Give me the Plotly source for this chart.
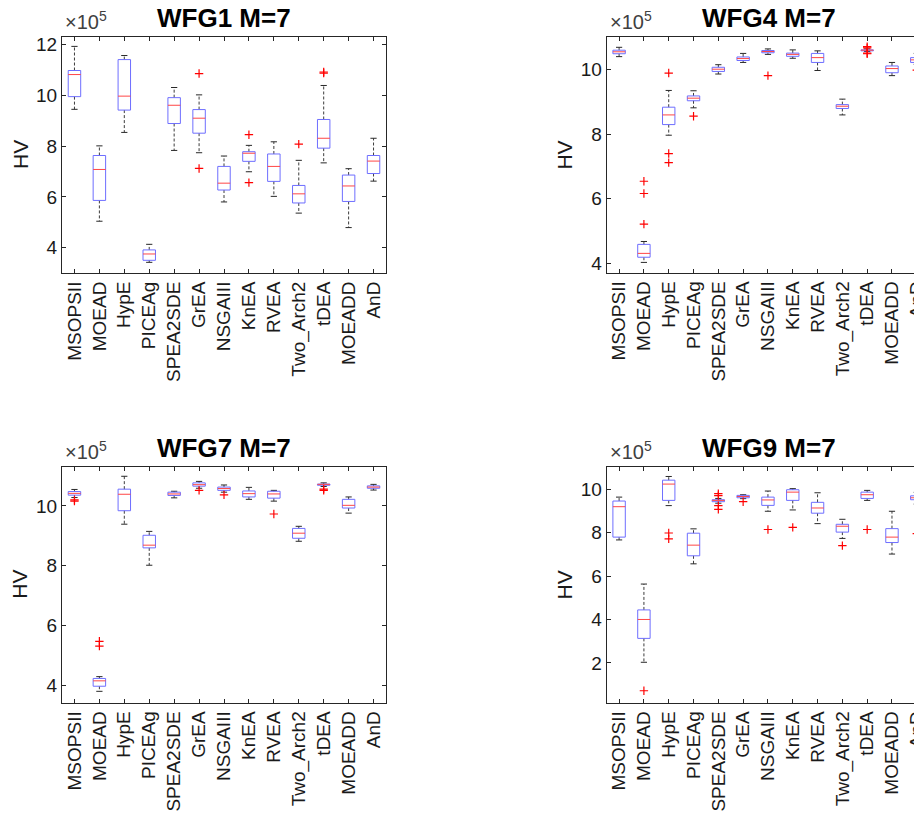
import plotly.graph_objects as go

algorithms = ["MSOPSII", "MOEAD", "HypE", "PICEAg", "SPEA2SDE", "GrEA", "NSGAIII",
              "KnEA", "RVEA", "Two_Arch2", "tDEA", "MOEADD", "AnD"]

# values in units of 1e5
wfg1_lower = [9.45, 5.04, 8.54, 3.42, 7.83, 7.74, 5.80, 6.99, 6.02, 5.36, 7.34, 4.79, 6.62]
wfg1_q1 = [9.95, 5.86, 9.42, 3.50, 8.89, 8.51, 6.27, 7.40, 6.61, 5.76, 7.92, 5.82, 6.92]
wfg1_median = [10.82, 7.08, 9.97, 3.75, 9.61, 9.10, 6.54, 7.72, 7.20, 6.12, 8.31, 6.43, 7.41]
wfg1_q3 = [10.98, 7.63, 11.41, 3.91, 9.91, 9.44, 7.20, 7.78, 7.69, 6.45, 9.05, 6.86, 7.63]
wfg1_upper = [11.93, 8.01, 11.57, 4.13, 10.31, 10.02, 7.61, 8.03, 8.17, 7.44, 10.39, 7.11, 8.31]
wfg1_outliers = [[], [], [], [], [], [10.86, 7.12], [], [8.45, 6.56], [], [8.08], [10.88, 10.92], [], []]

wfg4_lower = [10.41, 4.02, 7.97, 8.82, 9.87, 10.23, 10.48, 10.36, 9.98, 8.60, 10.57, 9.82, 10.17]
wfg4_q1 = [10.50, 4.18, 8.30, 9.04, 9.95, 10.29, 10.53, 10.42, 10.23, 8.80, 10.59, 9.91, 10.23]
wfg4_median = [10.56, 4.30, 8.60, 9.12, 10.02, 10.35, 10.57, 10.48, 10.38, 8.87, 10.61, 10.04, 10.31]
wfg4_q3 = [10.61, 4.58, 8.84, 9.19, 10.08, 10.40, 10.60, 10.52, 10.51, 8.92, 10.62, 10.12, 10.38]
wfg4_upper = [10.70, 4.67, 9.36, 9.35, 10.16, 10.51, 10.65, 10.62, 10.59, 9.09, 10.65, 10.23, 10.51]
wfg4_outliers = [[], [6.54, 6.16, 5.21], [9.90, 7.40, 7.12], [8.56], [], [], [9.82], [], [], [],
                 [10.72, 10.68, 10.52, 10.50], [], [9.99]]

wfg7_lower = [10.28, 3.81, 9.39, 8.02, 10.27, 10.59, 10.46, 10.22, 10.16, 8.82, 10.65, 9.76, 10.53]
wfg7_q1 = [10.36, 3.98, 9.84, 8.60, 10.35, 10.66, 10.52, 10.30, 10.26, 8.92, 10.69, 9.93, 10.59]
wfg7_median = [10.42, 4.16, 10.39, 8.69, 10.40, 10.71, 10.58, 10.41, 10.40, 9.09, 10.72, 10.02, 10.63]
wfg7_q3 = [10.48, 4.24, 10.56, 9.02, 10.46, 10.77, 10.63, 10.50, 10.49, 9.25, 10.73, 10.22, 10.67]
wfg7_upper = [10.55, 4.30, 10.99, 9.15, 10.49, 10.82, 10.70, 10.62, 10.52, 9.32, 10.77, 10.30, 10.72]
wfg7_outliers = [[10.20, 10.16], [5.48, 5.32], [], [], [], [10.52], [10.37], [], [9.73], [],
                 [10.56, 10.52], [], []]

wfg9_lower = [7.66, 2.03, 9.24, 6.56, 9.35, 9.56, 8.98, 9.04, 8.41, 7.73, 9.48, 7.01, 9.31]
wfg9_q1 = [7.79, 3.13, 9.48, 6.93, 9.42, 9.60, 9.25, 9.48, 8.89, 8.02, 9.57, 7.54, 9.51]
wfg9_median = [9.19, 4.00, 10.23, 7.42, 9.48, 9.66, 9.50, 9.86, 9.13, 8.29, 9.74, 7.79, 9.60]
wfg9_q3 = [9.45, 4.44, 10.41, 7.97, 9.51, 9.71, 9.63, 9.97, 9.39, 8.38, 9.86, 8.18, 9.69]
wfg9_upper = [9.63, 5.63, 10.58, 8.17, 9.57, 9.74, 9.91, 10.02, 9.83, 8.61, 9.94, 8.98, 9.85]
wfg9_outliers = [[], [0.72], [7.98, 7.71], [], [9.79, 9.70, 9.24, 9.07], [9.42], [8.14], [8.24], [],
                 [7.40], [8.14], [], [7.95]]

titles = ["WFG1 M=7", "WFG4 M=7", "WFG7 M=7", "WFG9 M=7"]
y_tick_values = [[4, 6, 8, 10, 12], [4, 6, 8, 10], [4, 6, 8, 10], [2, 4, 6, 8, 10]]

# page body has an 8px margin; lay out in window pixels and shift
OFF = 8
W, H = 922 - OFF, 814 - OFF
FONT = "Liberation Sans, Arial, Helvetica, sans-serif"
AX = "#262626"

panels = [
    dict(data=(wfg1_lower, wfg1_q1, wfg1_median, wfg1_q3, wfg1_upper, wfg1_outliers),
         px_x=(62, 386), px_y=(37, 273), xr=[0.5, 13.5], yr=[3.0, 12.3], right=False),
    dict(data=(wfg4_lower, wfg4_q1, wfg4_median, wfg4_q3, wfg4_upper, wfg4_outliers),
         px_x=(606.7, 922), px_y=(37, 272.7), xr=[0.5, 13.21], yr=[3.70, 11.02], right=True),
    dict(data=(wfg7_lower, wfg7_q1, wfg7_median, wfg7_q3, wfg7_upper, wfg7_outliers),
         px_x=(62, 386), px_y=(466.7, 702.7), xr=[0.5, 13.5], yr=[3.43, 11.31], right=False),
    dict(data=(wfg9_lower, wfg9_q1, wfg9_median, wfg9_q3, wfg9_upper, wfg9_outliers),
         px_x=(606.7, 922), px_y=(466.7, 702.7), xr=[0.5, 13.21], yr=[0.17, 11.03], right=True),
]

fig = go.Figure()
layout = dict(width=W, height=H, margin=dict(l=0, r=0, t=0, b=0, pad=0),
              paper_bgcolor="white", plot_bgcolor="white", showlegend=False,
              font=dict(family=FONT, color=AX))
annotations = []
hw, cw = 0.25, 0.125


def px2x(px):
    return (px - OFF) / W


def px2y(py):
    return 1 - (py - OFF) / H


for i, p in enumerate(panels):
    lower, q1, med, q3, upper, outs = p["data"]
    sfx = "" if i == 0 else str(i + 1)
    xa, ya = "x" + sfx, "y" + sfx
    pos = list(range(1, len(algorithms) + 1))

    bx, by, mx, my, wx, wy, cx, cy, ox, oy = [], [], [], [], [], [], [], [], [], []
    for k, lo, a, m, b, hi, o in zip(pos, lower, q1, med, q3, upper, outs):
        bx += [k - hw, k + hw, k + hw, k - hw, k - hw, None]
        by += [a, a, b, b, a, None]
        mx += [k - hw, k + hw, None]
        my += [m, m, None]
        wx += [k, k, None, k, k, None]
        wy += [b, hi, None, a, lo, None]
        cx += [k - cw, k + cw, None, k - cw, k + cw, None]
        cy += [hi, hi, None, lo, lo, None]
        ox += [k] * len(o)
        oy += o

    common = dict(xaxis=xa, yaxis=ya, hoverinfo="skip", cliponaxis=True)
    fig.add_trace(go.Scatter(x=wx, y=wy, mode="lines",
                             line=dict(color="rgb(60,60,60)", width=1, dash="3px,2px"), **common))
    fig.add_trace(go.Scatter(x=cx, y=cy, mode="lines",
                             line=dict(color="rgb(40,40,40)", width=1), **common))
    fig.add_trace(go.Scatter(x=bx, y=by, mode="lines",
                             line=dict(color="rgb(110,110,255)", width=1), **common))
    fig.add_trace(go.Scatter(x=mx, y=my, mode="lines",
                             line=dict(color="rgb(255,70,70)", width=1), **common))
    fig.add_trace(go.Scatter(x=ox, y=oy, mode="markers",
                             marker=dict(symbol="cross-thin", size=6,
                                         line=dict(color="rgb(255,0,0)", width=1.2)), **common))

    x0, x1 = p["px_x"]
    yt, yb = p["px_y"]
    xdom = [px2x(x0), min(px2x(x1), 1.0)]
    ydom = [px2y(yb), px2y(yt)]

    layout["xaxis" + sfx] = dict(
        domain=xdom, range=p["xr"], anchor=ya, tickmode="array", tickvals=pos,
        ticktext=algorithms, tickangle=-90, ticks="inside", ticklen=4, tickcolor=AX,
        showline=True, linecolor=AX, linewidth=1, mirror="ticks", showgrid=False,
        zeroline=False, tickfont=dict(size=19, family=FONT, color="#1a1a1a"),
        ticklabeloverflow="allow", automargin=False, fixedrange=True)
    layout["yaxis" + sfx] = dict(
        domain=ydom, range=p["yr"], anchor=xa, tickmode="array", tickvals=y_tick_values[i],
        ticks="inside", ticklen=4, tickcolor=AX, showline=True, linecolor=AX, linewidth=1,
        mirror=False if p["right"] else "ticks", showgrid=False, zeroline=False,
        tickfont=dict(size=19, family=FONT, color="#1a1a1a"), automargin=False,
        fixedrange=True)

    full_w = 324.0
    center_px = x0 + full_w / 2
    title_y_px = yt - 19
    annotations.append(dict(
        text="<b>" + titles[i] + "</b>", xref="paper", yref="paper",
        x=px2x(center_px), y=px2y(title_y_px), xanchor="center", yanchor="middle",
        showarrow=False, font=dict(size=26, family=FONT, color="black")))
    annotations.append(dict(
        text="×10<sup>5</sup>", xref="paper", yref="paper",
        x=px2x(x0 + 1), y=px2y(yt - 2), xanchor="left", yanchor="bottom",
        showarrow=False, font=dict(size=20, family=FONT, color="#404040")))
    annotations.append(dict(
        text="HV", xref="paper", yref="paper", textangle=-90,
        x=px2x(x0 - 42), y=px2y((yt + yb) / 2), xanchor="center", yanchor="middle",
        showarrow=False, font=dict(size=21, family=FONT, color="#1a1a1a")))

layout["annotations"] = annotations
fig.update_layout(**layout)
fig.write_html("out.html")
